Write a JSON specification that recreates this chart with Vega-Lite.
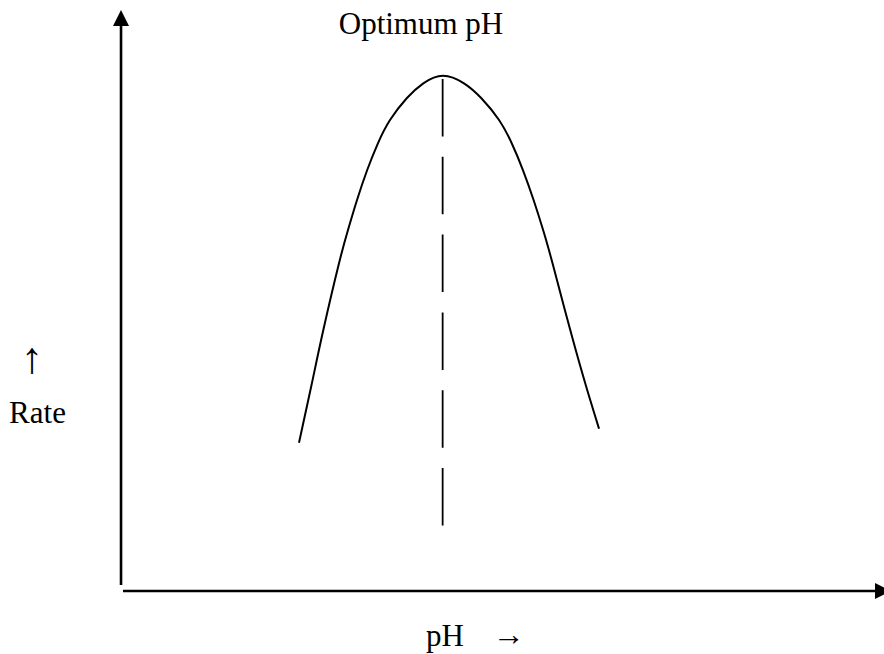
{
  "$schema": "https://vega.github.io/schema/vega-lite/v6.json",
  "width": 884,
  "height": 654,
  "autosize": {"type": "none"},
  "padding": 0,
  "background": "white",
  "config": {"view": {"stroke": null}},
  "datasets": {
    "curve": [
      {"ph": 3.252, "rate": 2.540},
      {"ph": 3.482, "rate": 3.534},
      {"ph": 3.706, "rate": 4.512},
      {"ph": 3.987, "rate": 5.633},
      {"ph": 4.152, "rate": 6.207},
      {"ph": 4.318, "rate": 6.724},
      {"ph": 4.505, "rate": 7.241},
      {"ph": 4.702, "rate": 7.702},
      {"ph": 4.924, "rate": 8.103},
      {"ph": 5.231, "rate": 8.478},
      {"ph": 5.536, "rate": 8.736},
      {"ph": 5.898, "rate": 8.867},
      {"ph": 6.283, "rate": 8.736},
      {"ph": 6.603, "rate": 8.478},
      {"ph": 6.927, "rate": 8.103},
      {"ph": 7.160, "rate": 7.702},
      {"ph": 7.366, "rate": 7.241},
      {"ph": 7.562, "rate": 6.724},
      {"ph": 7.737, "rate": 6.207},
      {"ph": 7.910, "rate": 5.633},
      {"ph": 8.227, "rate": 4.512},
      {"ph": 8.520, "rate": 3.534},
      {"ph": 8.764, "rate": 2.781}
    ],
    "axes": [
      {"name": "rate axis", "ph": -0.018, "rate": 0.086, "ph2": -0.018, "rate2": 9.741},
      {"name": "pH axis", "ph": 0.018, "rate": -0.017, "ph2": 13.853, "rate2": -0.017}
    ],
    "optimum": [
      {"ph": 5.891, "rate": 8.81, "rate2": 1.103}
    ],
    "uptip": [{"ph": -0.018, "rate": 9.862}],
    "righttip": [{"ph": 13.982, "rate": -0.017}],
    "centerLabels": [
      {"label": "Optimum pH", "ph": 5.493, "rate": 9.586},
      {"label": "Rate", "ph": -1.5525, "rate": 2.879}
    ],
    "leftLabels": [
      {"label": "pH", "ph": 5.585, "rate": -0.9655}
    ],
    "upArrow": [
      {"label": "↑", "ph": -1.6536, "rate": 3.957}
    ],
    "rightArrow": [
      {"label": "→", "ph": 7.101, "rate": -0.776}
    ]
  },
  "encoding": {
    "x": {"field": "ph", "type": "quantitative", "axis": null,
          "scale": {"domain": [-2.2415, 14], "nice": false, "zero": false}},
    "y": {"field": "rate", "type": "quantitative", "axis": null,
          "scale": {"domain": [-1.1034, 10.1724], "nice": false, "zero": false}}
  },
  "layer": [
    {
      "data": {"name": "curve"},
      "mark": {"type": "line", "color": "black", "strokeWidth": 2, "interpolate": "natural"},
      "encoding": {}
    },
    {
      "data": {"name": "axes"},
      "mark": {"type": "rule", "color": "black", "strokeWidth": 2.6},
      "encoding": {
        "x2": {"field": "ph2"},
        "y2": {"field": "rate2"}
      }
    },
    {
      "data": {"name": "optimum"},
      "mark": {"type": "rule", "color": "black", "strokeWidth": 1.8, "strokeDash": [57.5, 20.3]},
      "encoding": {
        "y2": {"field": "rate2"}
      }
    },
    {
      "data": {"name": "uptip"},
      "mark": {"type": "point", "shape": "M0,-1L1,1L-1,1Z", "size": 256, "filled": true, "color": "black", "opacity": 1, "strokeWidth": 0},
      "encoding": {}
    },
    {
      "data": {"name": "righttip"},
      "mark": {"type": "point", "shape": "M1,0L-1,-1L-1,1Z", "size": 256, "filled": true, "color": "black", "opacity": 1, "strokeWidth": 0},
      "encoding": {}
    },
    {
      "data": {"name": "centerLabels"},
      "mark": {"type": "text", "font": "Liberation Serif", "fontSize": 31, "color": "black", "align": "center", "baseline": "alphabetic"},
      "encoding": {"text": {"field": "label"}}
    },
    {
      "data": {"name": "leftLabels"},
      "mark": {"type": "text", "font": "Liberation Serif", "fontSize": 31, "color": "black", "align": "left", "baseline": "alphabetic"},
      "encoding": {"text": {"field": "label"}}
    },
    {
      "data": {"name": "upArrow"},
      "mark": {"type": "text", "font": "Liberation Serif", "fontSize": 44, "color": "black", "align": "center", "baseline": "middle"},
      "encoding": {"text": {"field": "label"}}
    },
    {
      "data": {"name": "rightArrow"},
      "mark": {"type": "text", "font": "Liberation Serif", "fontSize": 32, "color": "black", "align": "center", "baseline": "middle"},
      "encoding": {"text": {"field": "label"}}
    }
  ]
}
